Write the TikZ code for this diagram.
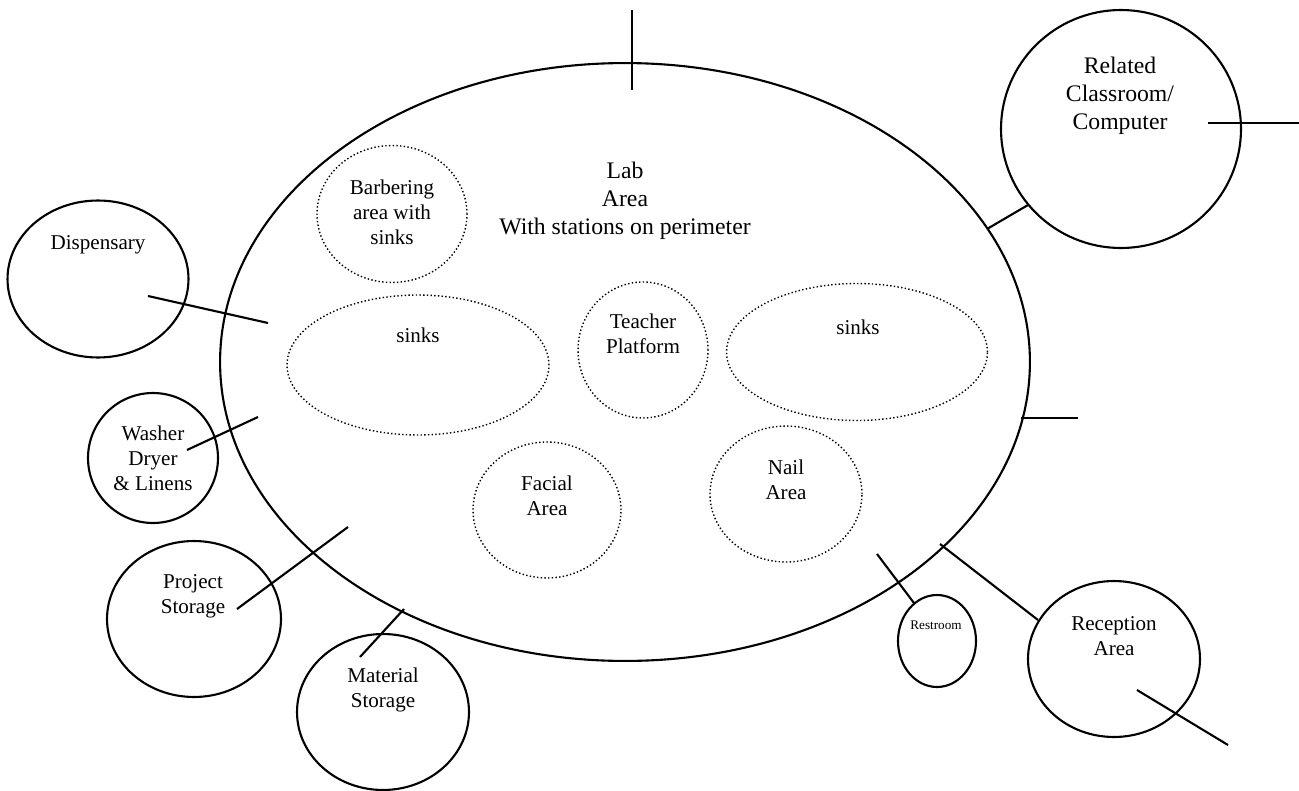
\documentclass[tikz,border=0pt]{standalone}
\usepackage{fontspec}
\setmainfont{Liberation Serif}
\usetikzlibrary{shapes}
\tikzstyle{room} = [
ellipse,
very thick,
draw=black,
inner sep=0pt
]
\tikzstyle{zone} = [
ellipse,
draw=black,
line width=0.8pt,
dash pattern=on 0.8pt off 1.3pt,
inner sep=0pt
]
\tikzstyle{lbl} = [
align=center,
inner sep=0pt,
font=\fontsize{12}{14.2}\selectfont
]
\tikzstyle{biglbl} = [
lbl,
font=\fontsize{13.5}{15.8}\selectfont
]

\begin{document}
\begin{tikzpicture}[
	x=0.02cm,
	y=-0.02cm,
	very thick
	]
	\useasboundingbox (0,0) rectangle (1299,791);
	
	% lab and the areas inside it
	\node[room,minimum width=16.2cm,minimum height=11.96cm] (lab) at (625,362) {};
	\node[zone,minimum width=3cm,minimum height=2.74cm] (barb) at (392,214) {};
	\node[zone,minimum width=5.24cm,minimum height=2.8cm] (sinksl) at (418,365) {};
	\node[zone,minimum width=2.6cm,minimum height=2.72cm] (teach) at (643,350) {};
	\node[zone,minimum width=5.22cm,minimum height=2.74cm] (sinksr) at (857,352) {};
	\node[zone,minimum width=2.96cm,minimum height=2.72cm] (facial) at (547,510) {};
	\node[zone,minimum width=3.04cm,minimum height=2.72cm] (nail) at (786,494) {};
	
	% rooms around the lab
	\node[room,minimum width=3.62cm,minimum height=3.14cm] (disp) at (98,279) {};
	\node[room,minimum width=2.6cm,minimum height=2.6cm] (wash) at (153,458) {};
	\node[room,minimum width=3.48cm,minimum height=3.12cm] (proj) at (194,619) {};
	\node[room,minimum width=3.44cm,minimum height=3.12cm] (matl) at (383,712) {};
	\node[room,minimum width=1.56cm,minimum height=1.84cm] (rest) at (937,641) {};
	\node[room,minimum width=3.44cm,minimum height=3.12cm] (recep) at (1114,659) {};
	\node[room,minimum width=4.8cm,minimum height=4.76cm] (rel) at (1121,129) {};
	
	% texts
	\node[biglbl] (labtxt) at (625,201) {Lab\\Area\\With stations on perimeter};
	\node[lbl] (barbtxt) at (392,212) {Barbering\\area with\\sinks};
	\node[lbl] (sinksltxt) at (418,335) {sinks};
	\node[lbl] (teachtxt) at (643,334) {Teacher\\Platform};
	\node[lbl] (sinksrtxt) at (858,327) {sinks};
	\node[lbl] (facialtxt) at (547,496) {Facial\\Area};
	\node[lbl] (nailtxt) at (786,480) {Nail\\Area};
	\node[lbl] (disptxt) at (98,245) {Dispensary};
	\node[lbl] (washtxt) at (153,458) {Washer\\Dryer\\\& Linens};
	\node[lbl] (projtxt) at (193,596) {Project\\Storage};
	\node[lbl] (matltxt) at (383,690) {Material\\Storage};
	\node[lbl,font=\fontsize{7.5}{9}\selectfont] (resttxt) at (936,625) {Restroom};
	\node[lbl] (receptxt) at (1114,636) {Reception\\Area};
	\node[biglbl] (reltxt) at (1120,96) {Related\\Classroom/\\Computer};
	
	% door lines
	\coordinate (labtop) at (632,10);
	\coordinate (labtopin) at (632,90);
	\coordinate (relin) at (1208,123);
	\coordinate (relout) at (1299,123);
	\coordinate (rellab) at (987,229);
	\coordinate (relrim) at (1028,205);
	\coordinate (labright) at (1021,418);
	\coordinate (labrightout) at (1078,418);
	\coordinate (dispin) at (148,296);
	\coordinate (displab) at (268,323);
	\coordinate (washin) at (187,450);
	\coordinate (washlab) at (258,417);
	\coordinate (projin) at (237,609);
	\coordinate (projlab) at (348,527);
	\coordinate (matlin) at (360,657);
	\coordinate (matllab) at (404,609);
	\coordinate (restlab) at (877,554);
	\coordinate (restrim) at (914,603);
	\coordinate (receplab) at (940,544);
	\coordinate (receprim) at (1038,620);
	\coordinate (recepin) at (1137,690);
	\coordinate (recepout) at (1228,745);
	
	\path (labtop) edge (labtopin);
	\path (relin) edge (relout);
	\path (rellab) edge (relrim);
	\path (labright) edge (labrightout);
	\path (dispin) edge (displab);
	\path (washin) edge (washlab);
	\path (projin) edge (projlab);
	\path (matlin) edge (matllab);
	\path (restlab) edge (restrim);
	\path (receplab) edge (receprim);
	\path (recepin) edge (recepout);
\end{tikzpicture}
\end{document}
